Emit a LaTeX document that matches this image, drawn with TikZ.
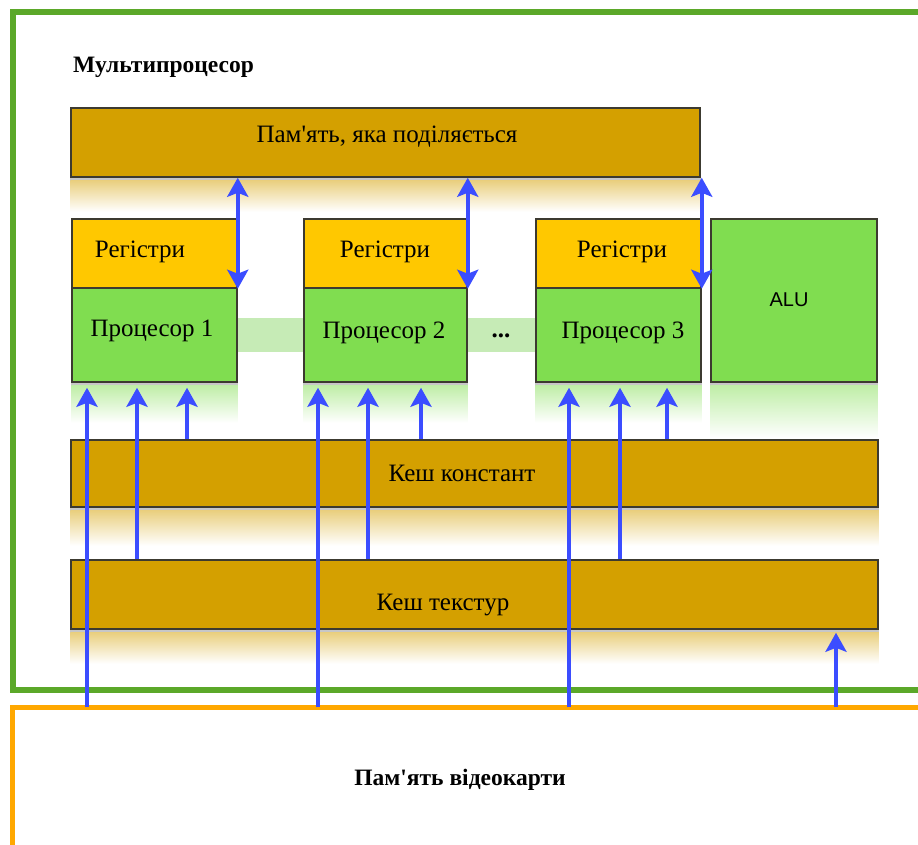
\documentclass[tikz,border=0pt]{standalone}
\usepackage{fontspec}
\setmainfont{Liberation Serif}
\newfontfamily\alufont{Liberation Sans}
\usetikzlibrary{arrows.meta}

\definecolor{framegreen}{HTML}{5BA829}
\definecolor{frameorange}{HTML}{FFA800}
\definecolor{cachegold}{HTML}{D4A000}
\definecolor{reggold}{HTML}{FFC800}
\definecolor{procgreen}{HTML}{80DD50}
\definecolor{bandgreen}{HTML}{C6EBB6}
\definecolor{arrowblue}{HTML}{3B4DFF}
\definecolor{boxline}{HTML}{3C3A30}

\tikzset{
  box/.style={draw=boxline, line width=1.5pt, inner sep=0pt},
  cachebox/.style={box, fill=cachegold},
  regbox/.style={box, fill=reggold},
  procbox/.style={box, fill=procgreen},
  txt/.style={inner sep=0pt, anchor=base, font=\fontsize{25}{29}\selectfont},
  boldtxt/.style={txt, font=\fontsize{23.5}{28}\selectfont\bfseries},
  arr/.style={draw=arrowblue, line width=3.8pt, -{Stealth[length=19pt,width=21pt,inset=4pt]}},
  darr/.style={arr, {Stealth[length=19pt,width=21pt,inset=4pt]}-{Stealth[length=19pt,width=21pt,inset=4pt]}},
}

\begin{document}
\begin{tikzpicture}[x=1pt,y=-1pt]
\useasboundingbox (0,0) rectangle (918,845);
\clip (0,0) rectangle (918,845);

% frames
\draw [framegreen, line width=5.5pt] (13,12) rectangle (940,690);
\draw [frameorange, line width=5pt] (12,707) rectangle (940,880);
\coordinate (vmtop) at (12,707);

\node [boldtxt, anchor=base west] (title) at (73,73) {Мультипроцесор};

% boxes
\node [cachebox, minimum width=629pt, minimum height=69pt] (shm) at (385.5,142.5) {};
\node [regbox, minimum width=165pt, minimum height=69pt] (reg1) at (154.5,253.5) {};
\node [regbox, minimum width=163pt, minimum height=69pt] (reg2) at (385.5,253.5) {};
\node [regbox, minimum width=165pt, minimum height=69pt] (reg3) at (618.5,253.5) {};
\node [procbox, minimum width=165pt, minimum height=94pt] (pr1) at (154.5,335) {};
\node [procbox, minimum width=163pt, minimum height=94pt] (pr2) at (385.5,335) {};
\node [procbox, minimum width=165pt, minimum height=94pt] (pr3) at (618.5,335) {};
\node [procbox, minimum width=166pt, minimum height=163pt] (alu) at (794,300.5) {};
\node [cachebox, minimum width=807pt, minimum height=67pt] (cc) at (474.5,473.5) {};
\node [cachebox, minimum width=807pt, minimum height=69pt] (tc) at (474.5,594.5) {};

% reflections
\foreach \b/\c/\h in {shm/cachegold/34pt, cc/cachegold/38pt, tc/cachegold/34pt,
                      pr1/procgreen/40pt, pr2/procgreen/40pt, pr3/procgreen/40pt, alu/procgreen/55pt}{
  \fill [black!22] ([yshift=-0.7pt]\b.south west) rectangle ([yshift=-3pt]\b.south east);
  \shade [top color=\c!50, bottom color=white] ([yshift=-3pt]\b.south west) rectangle ([yshift=-\h]\b.south east);
}

% band between processors
\fill [bandgreen] ([xshift=0.7pt,yshift=17pt]pr1.east) rectangle ([xshift=-0.7pt,yshift=-17pt]pr2.west);
\fill [bandgreen] ([xshift=0.7pt,yshift=17pt]pr2.east) rectangle ([xshift=-0.7pt,yshift=-17pt]pr3.west);

% texts
\node [txt] (tshm) at (387,143) {Пам\textquotesingle ять, яка поділяється};
\node [txt] (treg1) at (140,258) {Регістри};
\node [txt] (treg2) at (385,258) {Регістри};
\node [txt] (treg3) at (622,258) {Регістри};
\node [txt] (tpr1) at (152,336) {Процесор 1};
\node [txt] (tpr2) at (384,338) {Процесор 2};
\node [txt] (tpr3) at (623,338) {Процесор 3};
\node [txt, font=\fontsize{20}{24}\alufont] (talu) at (789,306) {ALU};
\node [txt] (dots) at (501,337) {\textbf{...}};
\node [txt] (tcc) at (462,481) {Кеш констант};
\node [txt] (ttc) at (443,610) {Кеш текстур};
\node [boldtxt] (vm) at (460,785) {Пам\textquotesingle ять відеокарти};

% const cache -> processors
\foreach \x/\p in {187/pr1, 421/pr2, 667/pr3}
  \draw [arr] (cc.north -| \x,0) -- ([yshift=-5pt]\p.south -| \x,0);
% texture cache -> processors
\foreach \x/\p in {137/pr1, 368/pr2, 620/pr3}
  \draw [arr] (tc.north -| \x,0) -- ([yshift=-5pt]\p.south -| \x,0);
% video memory -> processors
\foreach \x/\p in {87/pr1, 318/pr2, 569/pr3}
  \draw [arr] (vmtop -| \x,0) -- ([yshift=-5pt]\p.south -| \x,0);
\draw [arr] (vmtop -| 836,0) -- ([yshift=-3pt]tc.south -| 836,0);
% shared memory <-> registers
\foreach \r in {reg1, reg2, reg3}
  \draw [darr] (shm.south -| \r.east) -- (\r.south east);

\end{tikzpicture}
\end{document}
